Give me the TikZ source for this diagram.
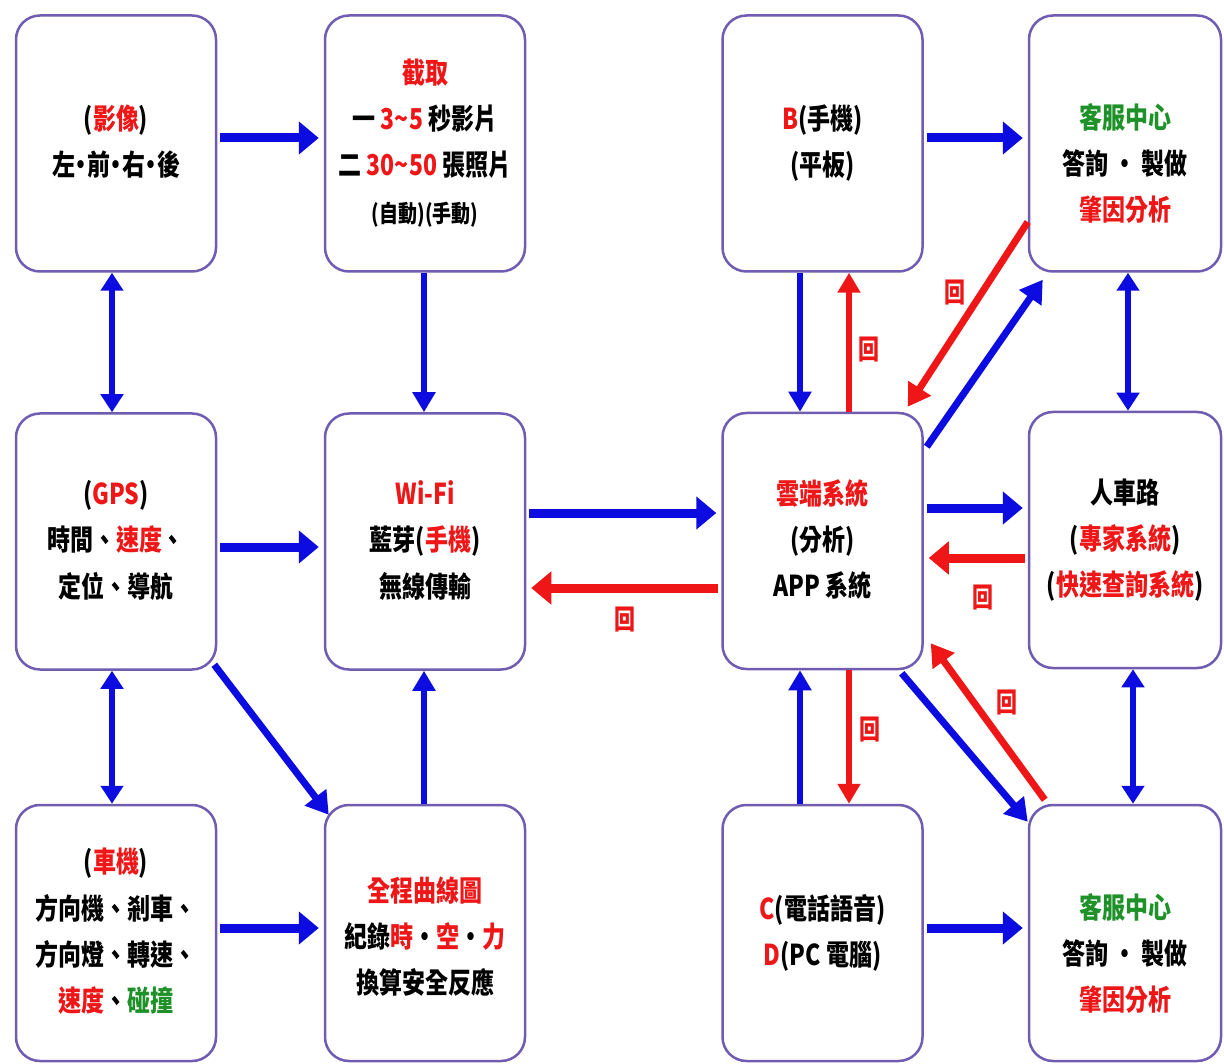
\documentclass[tikz,border=0pt]{standalone}
\usepackage{fontspec}
\usepackage{graphicx}
\setmainfont{Noto Sans CJK TC}
\usetikzlibrary{arrows.meta}
\definecolor{boxc}{RGB}{112,92,176}
\definecolor{ab}{RGB}{12,12,225}
\definecolor{ar}{RGB}{238,22,22}
\definecolor{gr}{RGB}{30,145,40}
\newcommand\R[1]{\textcolor{ar}{#1}}
\newcommand\G[1]{\textcolor{gr}{#1}}
\newcommand\bt[1]{\scalebox{1}[1.25]{\begin{tabular}{@{}c@{}}#1\end{tabular}}}
\newcommand\lowr[2]{\raisebox{-#1}[\height][\depth]{#2}}
\newcommand\sdot{\makebox[12pt]{·}}
\begin{document}
\begin{tikzpicture}[x=1pt,y=-1pt,
  cbox/.style={draw=boxc,line width=2.5pt,rounded corners=24pt,fill=white,
    minimum width=200pt,minimum height=256pt,inner sep=0pt,align=center,
    font=\bfseries\fontsize{23}{37}\selectfont},
  nbox/.style={cbox,minimum width=192pt},
  bh/.style={draw=ab,line width=9pt,-{Triangle[length=20pt,width=32pt]},shorten <=3pt,shorten >=5pt},
  rh/.style={draw=ar,line width=9pt,-{Triangle[length=20pt,width=32pt]},shorten <=3pt,shorten >=5pt},
  bv/.style={draw=ab,line width=6pt,-{Triangle[length=20pt,width=22pt]}},
  rv/.style={draw=ar,line width=6pt,-{Triangle[length=20pt,width=22pt]}},
  bd/.style={draw=ab,line width=6pt,{Triangle[length=18pt,width=22pt]}-{Triangle[length=18pt,width=22pt]}},
  bdg/.style={draw=ab,line width=7pt,-{Triangle[length=22pt,width=26pt]}},
  rdg/.style={draw=ar,line width=7pt,-{Triangle[length=22pt,width=26pt]}},
  hui/.style={text=ar,inner sep=0pt,font=\bfseries\fontsize{21}{21}\selectfont}
]
\fill[white] (0,0) rectangle (1224,1064);
\useasboundingbox (0,0) rectangle (1224,1064);

% boxes
\node[cbox] (b1) at (116,143.5) {\bt{(\R{影像})\\左\sdot 前\sdot 右\sdot 後}};
\node[cbox] (b2) at (425,143.5) {\bt{\R{截取}\\一 \R{3\textasciitilde5} 秒影片\\二 \R{30\textasciitilde50} 張照片\\{\fontsize{19}{37}\selectfont(自動)(手動)}}};
\node[cbox] (b3) at (116,541.5) {\bt{(\R{GPS})\\時間、\R{速度}、\\定位、導航}};
\node[cbox] (b4) at (425,541.5) {\bt{\R{Wi-Fi}\\藍芽(\R{手機})\\無線傳輸}};
\node[cbox] (b5) at (116,933) {\bt{(\R{車機})\\方向機、剎車、\\方向燈、轉速、\\\R{速度}、\G{碰撞}}};
\node[cbox] (b6) at (425,933) {\lowr{5pt}{\bt{\R{全程曲線圖}\\紀錄\R{時}·\R{空}·\R{力}\\換算安全反應}}};
\node[cbox] (b7) at (822.5,143.5) {\bt{\R{B}(手機)\\(平板)}};
\node[nbox] (b8) at (1125,143.5) {\lowr{22pt}{\bt{\G{客服中心}\\答詢 · 製做\\\R{肇因分析}}}};
\node[cbox] (b9) at (822.5,541) {\bt{\R{雲端系統}\\(分析)\\APP 系統}};
\node[nbox] (b10) at (1125,540) {\bt{人車路\\(\R{專家系統})\\(\R{快速查詢系統})}};
\node[cbox] (b11) at (822.5,933) {\bt{\R{C}(電話語音)\\\R{D}(PC 電腦)}};
\node[nbox] (b12) at (1125,933) {\lowr{22pt}{\bt{\G{客服中心}\\答詢 · 製做\\\R{肇因分析}}}};

% horizontal connectors
\draw[bh] (b1.east |- 0,138) -- (b2.west |- 0,138);
\draw[bh] (b3.east |- 0,547) -- (b4.west |- 0,547);
\draw[bh] (b5.east |- 0,928) -- (b6.west |- 0,928);
\draw[bh] (b4.east |- 0,513) -- (b9.west |- 0,513);
\draw[rh] (b9.west |- 0,588) -- (b4.east |- 0,588);
\draw[bh] (b7.east |- 0,138) -- (b8.west |- 0,138);
\draw[bh] (b9.east |- 0,508) -- (b10.west |- 0,508);
\draw[rh] (b10.west |- 0,558) -- (b9.east |- 0,558);
\draw[bh] (b11.east |- 0,928) -- (b12.west |- 0,928);

% vertical connectors
\draw[bd] (b1.south -| 112,0) -- (b3.north -| 112,0);
\draw[bv] (b2.south -| 424,0) -- (b4.north -| 424,0);
\draw[bd] (b3.south -| 112,0) -- (b5.north -| 112,0);
\draw[bv] (b6.north -| 424,0) -- (b4.south -| 424,0);
\draw[bv] (b7.south -| 800,0) -- (b9.north -| 800,0);
\draw[rv] (b9.north -| 849,0) -- (b7.south -| 849,0);
\draw[bd] (b8.south -| 1128,0) -- (b10.north -| 1128,0);
\draw[bd] (b10.south -| 1133,0) -- (b12.north -| 1133,0);
\draw[bv] (b11.north -| 800,0) -- (b9.south -| 800,0);
\draw[rv] (b9.south -| 849,0) -- (b11.north -| 849,0);

% diagonal connectors
\draw[bdg] ([xshift=-3pt,yshift=6pt]b3.south east) -- ([xshift=5pt,yshift=-11pt]b6.north west);
\draw[rdg] (b8.west |- 0,222) -- ([xshift=-16pt,yshift=5pt]b9.north east);
\draw[bdg] ([xshift=3pt,yshift=-35pt]b9.north east) -- ([xshift=15pt,yshift=-7pt]b8.south west);
\draw[bdg] ([xshift=-22pt,yshift=-3pt]b9.south east) -- ([xshift=0pt,yshift=-18pt]b12.north west);
\draw[rdg] ([xshift=17pt,yshift=4pt]b12.north west) -- ([xshift=7pt,yshift=27pt]b9.south east);

% return labels
\node[hui] (h1) at (625,620) {\scalebox{1}[1.3]{回}};
\node[hui] (h2) at (869,350) {\scalebox{1}[1.3]{回}};
\node[hui] (h3) at (955,293) {\scalebox{1}[1.3]{回}};
\node[hui] (h4) at (983,598) {\scalebox{1}[1.3]{回}};
\node[hui] (h5) at (1007,703) {\scalebox{1}[1.3]{回}};
\node[hui] (h6) at (870,730) {\scalebox{1}[1.3]{回}};
\end{tikzpicture}
\end{document}
